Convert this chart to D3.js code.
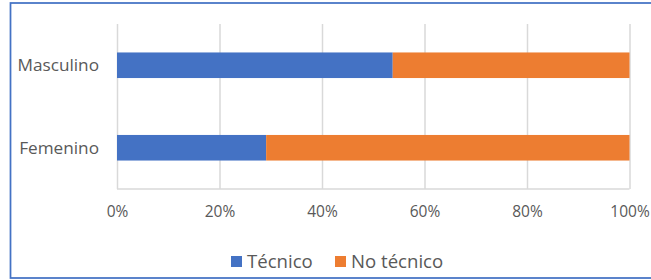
<!doctype html>
<html>
  <head>
    <script src="https://d3js.org/d3.v7.min.js"></script>
    <style>
      body { margin: 0; background: #fff; }
      svg text { font-family: "Open Sans", sans-serif; fill: #595959; }
    </style>
  </head>
  <body>
    <svg id="chart" width="651" height="280"></svg>
    <script>
      var categories = ['Masculino', 'Femenino'];
      var tecnico = [0.538, 0.291];
      var noTecnico = [0.462, 0.709];
      var tickValues = [0, 0.2, 0.4, 0.6, 0.8, 1];
      var seriesNames = ['Técnico', 'No técnico'];
      var colors = ['#4472c4', '#ed7d31'];

      var svg = d3.select('#chart');

      // chart frame
      svg.append('rect')
        .attr('x', 10.5).attr('y', 3)
        .attr('width', 642).attr('height', 275)
        .style('fill', 'none')
        .style('stroke', '#4472c4')
        .style('stroke-width', '1.75px');

      var xScale = d3.scaleLinear()
        .domain([0, 1])
        .range([117, 629.5]);

      var yScale = d3.scaleBand()
        .domain(categories)
        .range([24, 189])
        .paddingInner(0.69)
        .paddingOuter(0.345);

      var xAxis = d3.axisBottom()
        .scale(xScale)
        .tickValues(tickValues)
        .tickSize(-165)
        .tickPadding(12)
        .tickFormat(d3.format('.0%'));

      var xAxisG = svg.append('g')
        .attr('transform', 'translate(0,189)')
        .call(xAxis);
      xAxisG.select('.domain').remove();
      xAxisG.selectAll('line').style('stroke', '#d9d9d9').style('stroke-width', '1.5px');
      xAxisG.selectAll('text').style('font-size', '15.5px').attr('dy', '1em');

      // bottom axis line
      svg.append('line')
        .attr('x1', xScale(0)).attr('x2', xScale(1))
        .attr('y1', 189).attr('y2', 189)
        .style('stroke', '#d9d9d9').style('stroke-width', '1.5px');

      var stackData = categories.map(function(c, i) {
        return { cat: c, tecnico: tecnico[i], noTecnico: noTecnico[i] };
      });
      var stacked = d3.stack().keys(['tecnico', 'noTecnico'])(stackData);

      svg.selectAll('g.series')
        .data(stacked)
        .enter()
        .append('g')
        .attr('class', 'series')
        .style('fill', (d, i) => colors[i])
        .selectAll('rect')
        .data(d => d)
        .enter()
        .append('rect')
        .attr('x', d => xScale(d[0]))
        .attr('width', d => xScale(d[1]) - xScale(d[0]))
        .attr('y', d => yScale(d.data.cat))
        .attr('height', yScale.bandwidth());

      svg.selectAll('text.cat')
        .data(categories)
        .enter()
        .append('text')
        .attr('class', 'cat')
        .attr('x', 99)
        .attr('y', d => yScale(d) + yScale.bandwidth() / 2)
        .attr('dy', '0.35em')
        .attr('text-anchor', 'end')
        .style('font-size', '17.2px')
        .text(d => d);

      // legend
      var legendX = [231, 335];
      var legend = svg.selectAll('g.legend')
        .data(seriesNames)
        .enter()
        .append('g')
        .attr('class', 'legend')
        .attr('transform', (d, i) => 'translate(' + legendX[i] + ',256)');
      legend.append('rect')
        .attr('width', 11).attr('height', 11)
        .style('fill', (d, i) => colors[i]);
      legend.append('text')
        .attr('x', 16).attr('y', 5.5)
        .attr('dy', '0.35em')
        .style('font-size', '18.6px')
        .text(d => d);
    </script>
  </body>
</html>
